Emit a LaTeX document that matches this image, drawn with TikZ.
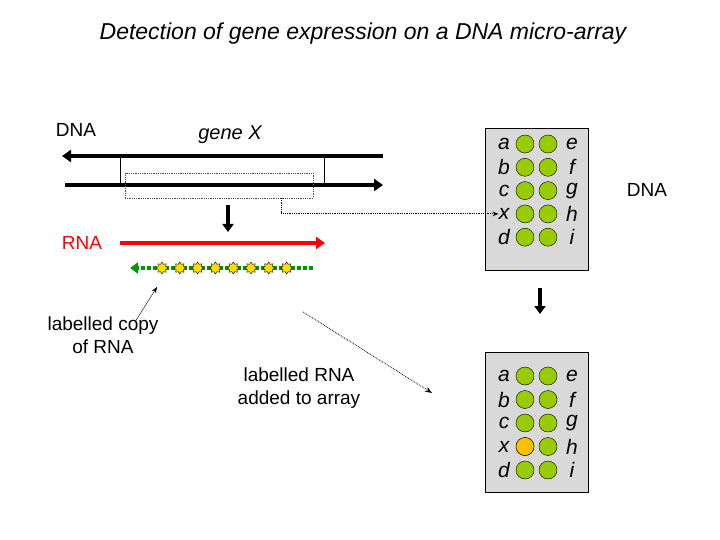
\documentclass[tikz,border=0pt]{standalone}
\usepackage{fontspec}
\setmainfont{Liberation Sans}
\usetikzlibrary{arrows.meta, shapes.geometric}
\definecolor{spotgreen}{RGB}{153,204,0}
\definecolor{spotorange}{RGB}{255,192,0}
\definecolor{panelgray}{RGB}{217,217,217}
\definecolor{copygreen}{RGB}{0,153,0}
\begin{document}
\begin{tikzpicture}[x=1pt,y=-1pt,
	spot/.style={circle, draw, fill=spotgreen, minimum size=18pt, inner sep=0pt},
	lbl/.style={font=\fontsize{19}{23}\selectfont, align=center},
	letter/.style={font=\fontsize{21}{24}\selectfont\itshape, inner sep=0pt},
	tag/.style={star, star points=8, draw=black, fill=yellow!80!orange, inner sep=0pt, minimum size=12pt, line width=0.4pt}]
	\useasboundingbox (0,0) rectangle (720,540);
	\node[lbl, font=\fontsize{23}{27}\selectfont\itshape] (title) at (363,34) {Detection of gene expression on a DNA micro-array};
	\node[lbl] (dnaL) at (76,130) {DNA};
	\node[lbl, font=\fontsize{20}{24}\selectfont\itshape] (geneX) at (230,135) {gene X};
	% double strand
	\coordinate (topR) at (383,156);
	\coordinate (topL) at (62,156);
	\coordinate (botL) at (65,185);
	\coordinate (botR) at (383,185);
	\draw[line width=4pt, -{Triangle[length=9pt,width=12pt]}] (topR) -- (topL);
	\draw[line width=4pt, -{Triangle[length=9pt,width=12pt]}] (botL) -- (botR);
	\draw (120,156) -- (120,185);
	\draw (324,156) -- (324,185);
	\node[draw=black!70, densely dotted, thick, minimum width=188pt, minimum height=25pt, inner sep=0pt] (gene) at (219,185.5) {};
	% transcription
	\coordinate (tStart) at (228,205);
	\coordinate (tEnd) at (228,232);
	\draw[line width=3.5pt, -{Triangle[length=8pt,width=11pt]}] (tStart) -- (tEnd);
	\node[lbl, text=red] (rnaL) at (82,243) {RNA};
	\coordinate (rnaA) at (120,243);
	\coordinate (rnaB) at (325,243);
	\draw[red, line width=4pt, -{Triangle[length=9pt,width=12pt]}] (rnaA) -- (rnaB);
	% labelled copy
	\coordinate (copyR) at (313,268);
	\coordinate (copyLt) at (130,268);
	\draw[copygreen, line width=4pt, dotted, -{Triangle[length=8pt,width=11pt]}] (copyR) -- (copyLt);
	\foreach \i in {0,...,7}
		\node[tag] (s\i) at (162+17.8*\i,268) {};
	\node[lbl] (copyL) at (103,335) {labelled copy\\of RNA};
	\coordinate (pA) at (135,322);
	\coordinate (pB) at (157,287);
	\draw[-{Stealth[length=6pt]}] (pA) -- (pB);
	\node[lbl] (addL) at (299,388) {labelled RNA\\added to array};
	\coordinate (hA) at (303,312);
	\coordinate (hB) at (432,393);
	\draw[densely dotted, thick, -{Stealth[length=7pt]}] (hA) -- (hB);
	% arrays
	\node[draw, fill=panelgray, minimum width=103pt, minimum height=142pt, inner sep=0pt] (arrA) at (536.5,199) {};
	\node[draw, fill=panelgray, minimum width=103pt, minimum height=140pt, inner sep=0pt] (arrB) at (536.5,422) {};
	\foreach \l/\r [count=\k from 0] in {a/e,b/f,c/g,x/h,d/i} {
		\node[spot] (a\l) at (525,144+23.3*\k) {};
		\node[spot] (a\r) at (548,144+23.3*\k) {};
		\node[letter] (ta\l) at (504,144+23.3*\k) {\l};
		\node[letter] (ta\r) at (572,144+23.3*\k) {\r};
		\node[spot] (b\l) at (525,376+23.5*\k) {};
		\node[spot] (b\r) at (548,376+23.5*\k) {};
		\node[letter] (tb\l) at (504,376+23.5*\k) {\l};
		\node[letter] (tb\r) at (572,376+23.5*\k) {\r};
	}
	\node[spot, fill=spotorange] at (bx) {};
	\node[lbl] (dnaR) at (647,190) {DNA};
	\coordinate (gA) at (281,198);
	\draw[densely dotted, thick, -{Stealth[length=6pt]}] (gA) |- (tax.west);
	\coordinate (mA) at (540,288);
	\coordinate (mB) at (540,314);
	\draw[line width=3.5pt, -{Triangle[length=8pt,width=11pt]}] (mA) -- (mB);
\end{tikzpicture}
\end{document}
